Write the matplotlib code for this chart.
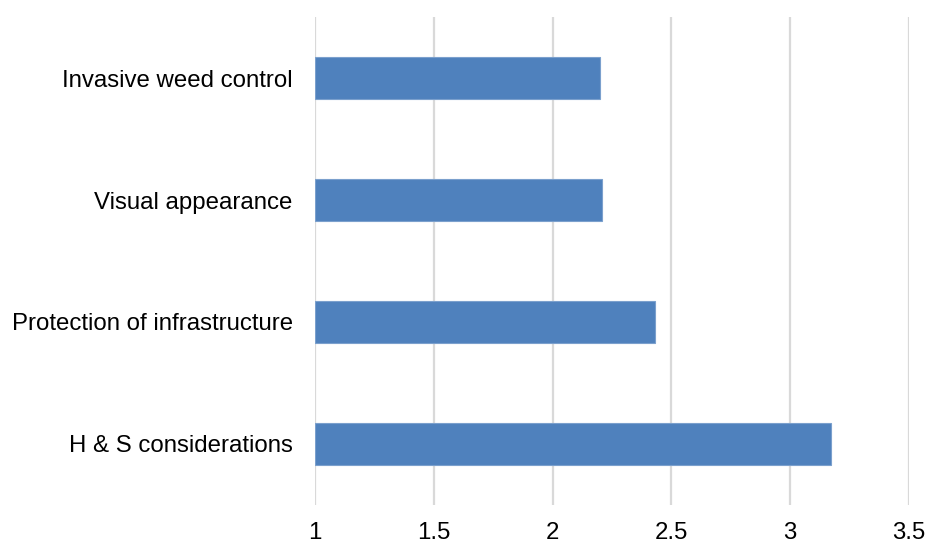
import matplotlib
matplotlib.use("Agg")
import matplotlib.pyplot as plt

categories = ["H & S considerations", "Protection of infrastructure",
              "Visual appearance", "Invasive weed control"]
values = [3.17, 2.43, 2.21, 2.20]
xticks = [1, 1.5, 2, 2.5, 3, 3.5]
xticklabels = ["1", "1.5", "2", "2.5", "3", "3.5"]

plt.rcParams['font.family'] = ['Liberation Sans', 'DejaVu Sans']

fig = plt.figure(figsize=(9.29, 5.42), dpi=100)
ax = fig.add_axes([0.339, 0.0683, 0.6395, 0.9003])

ypos = range(len(categories))
ax.barh(ypos, [v - 1 for v in values], left=1, height=0.345,
        color="#4F81BD", edgecolor="#7BA0CD", linewidth=0.8, zorder=3)

ax.set_xlim(1, 3.5)
ax.set_ylim(-0.5, 3.5)
ax.set_xticks(xticks)
ax.set_xticklabels(xticklabels)
ax.set_yticks(list(ypos))
ax.set_yticklabels(categories)
ax.grid(axis="x", color="#D9D9D9", linewidth=1.6, zorder=0)
ax.set_axisbelow(True)
for s in ax.spines.values():
    s.set_visible(False)
ax.tick_params(axis="both", length=0, labelsize=17.3, colors="black")
ax.tick_params(axis="y", pad=16)
ax.tick_params(axis="x", pad=12)

fig.savefig("out.png", dpi=100)
